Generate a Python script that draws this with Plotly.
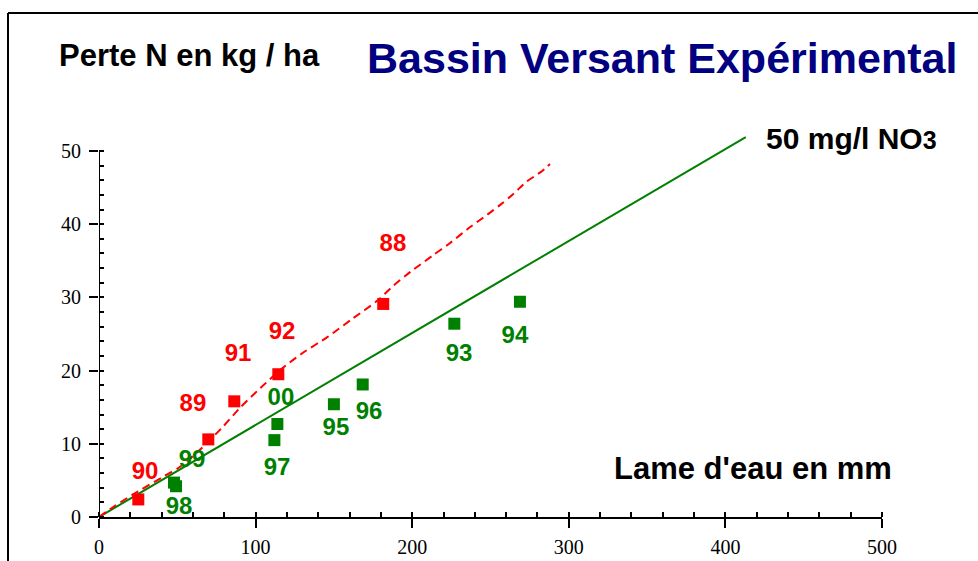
import plotly.graph_objects as go

# ---- data ----
red_years = ["90", "89", "91", "92", "88"]
red_x = [25.1, 69.8, 86.4, 114.5, 181.5]
red_y = [2.4, 10.6, 15.8, 19.5, 29.1]
red_lab_x = [29.4, 60.0, 88.8, 116.9, 187.7]
red_lab_y = [6.0, 15.3, 22.1, 25.1, 37.2]

green_years = ["99", "98", "97", "00", "95", "96", "93", "94"]
green_x = [47.9, 49.2, 112.0, 113.9, 150.0, 168.4, 226.9, 268.8]
green_y = [4.7, 4.2, 10.5, 12.7, 15.4, 18.1, 26.4, 29.4]
green_lab_x = [59.4, 51.1, 113.7, 116.2, 151.3, 172.4, 229.9, 265.6]
green_lab_y = [7.7, 1.2, 6.6, 16.1, 12.0, 14.2, 22.1, 24.6]

# 50 mg/l NO3 reference line
ref_x = [0, 413]
ref_y = [0, 51.9]

# red dashed trend curve
trend_x = [0, 10, 25, 41, 52, 66, 79, 90, 103, 117, 130, 146, 162, 178, 188,
           199, 213, 224, 237, 248, 256, 264, 273, 282, 288]
trend_y = [0, 1.5, 3.5, 5.5, 6.9, 9.5, 12.3, 14.9, 17.6, 20.3, 22.4, 24.6, 27.1,
           29.6, 31.6, 33.5, 35.7, 37.4, 39.6, 41.3, 42.6, 44.0, 45.8, 47.1, 48.2]

x_ticks = [0, 100, 200, 300, 400, 500]
y_ticks = [0, 10, 20, 30, 40, 50]
x_minor = list(range(0, 501, 20))
y_minor = list(range(0, 51, 2))

RED = "#FF0000"
GREEN = "#008000"
NAVY = "#000080"

W, H = 978, 561
L, R, T, B = 99, 96, 107, 44
pw, ph = W - L - R, H - T - B


def px2paper_x(px):
    return (px - L) / pw


def px2paper_y(py):
    return (H - B - py) / ph


fig = go.Figure()

fig.add_trace(go.Scatter(x=ref_x, y=ref_y, mode="lines",
                         line=dict(color=GREEN, width=2), hoverinfo="skip"))
fig.add_trace(go.Scatter(x=trend_x, y=trend_y, mode="lines",
                         line=dict(color=RED, width=2, dash="8px,5px", shape="spline", smoothing=0.8),
                         hoverinfo="skip"))
fig.add_trace(go.Scatter(x=green_x, y=green_y, mode="markers",
                         marker=dict(symbol="square", size=12, color=GREEN),
                         cliponaxis=False))
fig.add_trace(go.Scatter(x=red_x, y=red_y, mode="markers",
                         marker=dict(symbol="square", size=12, color=RED),
                         cliponaxis=False))

fig.add_trace(go.Scatter(x=red_lab_x, y=red_lab_y, mode="text", text=red_years,
                         textposition="middle center",
                         textfont=dict(family="Liberation Sans", size=24, color=RED, weight="bold"),
                         cliponaxis=False, hoverinfo="skip"))
fig.add_trace(go.Scatter(x=green_lab_x, y=green_lab_y, mode="text", text=green_years,
                         textposition="middle center",
                         textfont=dict(family="Liberation Sans", size=24, color=GREEN, weight="bold"),
                         cliponaxis=False, hoverinfo="skip"))

tickfont = dict(family="Liberation Serif", size=20, color="black")

fig.update_xaxes(range=[0, 500], tickvals=x_ticks, ticktext=[str(v) for v in x_ticks],
                 ticks="outside", ticklen=9, tickwidth=2, tickcolor="black",
                 showline=True, linecolor="black", linewidth=2, automargin=False,
                 showgrid=False, zeroline=False, tickfont=tickfont, ticklabelstandoff=2,
                 minor=dict(tickvals=x_minor, ticks="inside", ticklen=5, tickwidth=2,
                            tickcolor="black", showgrid=False))
fig.update_yaxes(range=[0, 56], tickvals=y_ticks, ticktext=[str(v) for v in y_ticks],
                 ticks="outside", ticklen=9, tickwidth=2, tickcolor="black",
                 showline=False, showgrid=False, zeroline=False, tickfont=tickfont,
                 ticklabelstandoff=4, automargin=False,
                 minor=dict(tickvals=y_minor, ticks="inside", ticklen=5, tickwidth=2,
                            tickcolor="black", showgrid=False))

shapes = [
    # y axis line from 0 to 50
    dict(type="line", xref="x", yref="y", x0=0, x1=0, y0=0, y1=50,
         line=dict(color="black", width=2)),
    # outer frame (top and left edges)
    dict(type="line", xref="paper", yref="paper",
         x0=px2paper_x(8), x1=px2paper_x(995), y0=px2paper_y(13), y1=px2paper_y(13),
         line=dict(color="black", width=2)),
    dict(type="line", xref="paper", yref="paper",
         x0=px2paper_x(8), x1=px2paper_x(8), y0=px2paper_y(13), y1=px2paper_y(580),
         line=dict(color="black", width=2)),
]

bold = dict(family="Liberation Sans", weight="bold")
annotations = [
    dict(text="Bassin Versant Expérimental", x=px2paper_x(662), y=px2paper_y(58),
         xanchor="center", yanchor="middle",
         font=dict(size=43, color=NAVY, **bold)),
    dict(text="Perte N en kg / ha", x=px2paper_x(57), y=px2paper_y(55),
         xanchor="left", yanchor="middle",
         font=dict(size=31, color="black", **bold)),
    dict(text="Lame d'eau en mm", x=px2paper_x(612), y=px2paper_y(468),
         xanchor="left", yanchor="middle",
         font=dict(size=31, color="black", **bold)),
    dict(text="50 mg/l NO<span style='font-size:25px'>3</span>", x=px2paper_x(764), y=px2paper_y(139),
         xanchor="left", yanchor="middle",
         font=dict(size=30, color="black", **bold)),
]
for a in annotations:
    a.update(xref="paper", yref="paper", showarrow=False)

fig.update_layout(width=W, height=H, margin=dict(l=L, r=R, t=T, b=B),
                  paper_bgcolor="white", plot_bgcolor="white", showlegend=False,
                  shapes=shapes, annotations=annotations)

fig.write_html("out.html", config={"displayModeBar": False},
               post_script="document.body.style.margin='0';document.body.style.overflow='hidden';")
